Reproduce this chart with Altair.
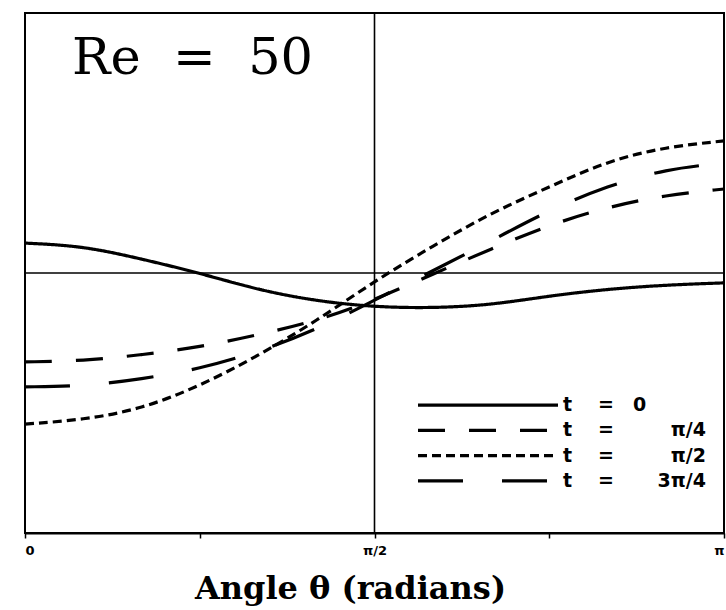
import altair as alt
import pandas as pd

# Angle grid (radians), 0 .. pi in steps of pi/12
theta = [0.000, 0.262, 0.524, 0.785, 1.047, 1.309, 1.571,
         1.833, 2.094, 2.356, 2.618, 2.880, 3.142]

series_names = ["t = 0", "t = π/4", "t = π/2", "t = 3π/4"]
series_values = ["0", "π/4", "π/2", "3π/4"]

# Normalised response at each time instant
t_0 = [0.115, 0.104, 0.054, 0.000, -0.065, -0.108, -0.131,
       -0.135, -0.123, -0.088, -0.062, -0.046, -0.038]
t_pi4 = [-0.342, -0.338, -0.315, -0.285, -0.238, -0.185, -0.104,
         -0.004, 0.092, 0.185, 0.254, 0.300, 0.323]
t_pi2 = [-0.581, -0.565, -0.523, -0.435, -0.319, -0.185, -0.031,
         0.104, 0.231, 0.331, 0.431, 0.485, 0.508]
t_3pi4 = [-0.438, -0.435, -0.408, -0.369, -0.304, -0.219, -0.104,
          0.008, 0.123, 0.242, 0.335, 0.400, 0.423]

tick_values = [0.0, 0.7854, 1.5708, 2.3562, 3.14159]
tick_labels = ["0", "", "π/2", "", "π"]

dash_patterns = [[1, 0], [27, 24], [9, 5], [45, 39]]

rows = []
for name, vals in zip(series_names, [t_0, t_pi4, t_pi2, t_3pi4]):
    for th, v in zip(theta, vals):
        rows.append({"theta": th, "value": v, "series": name})
df = pd.DataFrame(rows)

legend_df = pd.DataFrame({
    "series": series_names,
    "val": series_values,
    "row": list(range(len(series_names))),
})

label_expr = " : ".join(
    f"abs(datum.value - {v}) < 0.01 ? '{lab}'" for v, lab in zip(tick_values, tick_labels)
) + " : ''"

dash_scale = alt.Scale(domain=series_names, range=dash_patterns)

x_scale = alt.Scale(domain=[0, 3.14159], nice=False, zero=False)
y_scale = alt.Scale(domain=[-1, 1], nice=False, zero=False)
x_axis = alt.Axis(values=tick_values, labelExpr=label_expr, title="Angle θ (radians)")

curves = alt.Chart(df).mark_line(
    color="black", strokeWidth=3.2, interpolate="basis", strokeCap="butt"
).encode(
    x=alt.X("theta:Q", scale=x_scale, axis=x_axis),
    y=alt.Y("value:Q", scale=y_scale, axis=None),
    strokeDash=alt.StrokeDash("series:N", scale=dash_scale, legend=None),
    detail="series:N",
)

zero_line = alt.Chart(pd.DataFrame({"y": [0.0]})).mark_rule(
    color="black", strokeWidth=1.6
).encode(y=alt.Y("y:Q", scale=y_scale, axis=None))

mid_line = alt.Chart(pd.DataFrame({"x": [1.5708]})).mark_rule(
    color="black", strokeWidth=1.6
).encode(x=alt.X("x:Q", scale=x_scale, axis=x_axis))

re_label = alt.Chart(pd.DataFrame({"txt": ["Re\u00a0\u00a0=\u00a0\u00a050"]})).mark_text(
    align="left", baseline="alphabetic", font="DejaVu Serif", fontSize=51, color="black"
).encode(text="txt:N", x=alt.value(47), y=alt.value(61))

# Hand-built key in the lower right of the plot area (rows stacked downward)
leg_base = alt.Chart(legend_df).transform_calculate(ly="-0.508 - 0.0973 * datum.row")
leg_y = alt.Y("ly:Q", scale=y_scale, axis=None)
txt_style = dict(baseline="middle", font="DejaVu Sans", fontWeight="bold",
                 fontSize=19, color="black")

leg_lines = leg_base.mark_rule(color="black", strokeWidth=3.2, strokeCap="butt").encode(
    x=alt.value(393), x2=alt.value(533),
    y=leg_y,
    strokeDash=alt.StrokeDash("series:N", scale=dash_scale, legend=None),
)
leg_t = leg_base.mark_text(align="left", **txt_style).encode(
    text=alt.value("t"), x=alt.value(538), y=leg_y)
leg_eq = leg_base.mark_text(align="center", **txt_style).encode(
    text=alt.value("="), x=alt.value(581), y=leg_y)
leg_zero = leg_base.transform_filter("datum.val === '0'").mark_text(
    align="left", **txt_style).encode(text="val:N", x=alt.value(608), y=leg_y)
leg_pi = leg_base.transform_filter("datum.val !== '0'").mark_text(
    align="right", **txt_style).encode(text="val:N", x=alt.value(681), y=leg_y)

chart = alt.layer(
    zero_line, mid_line, curves, re_label, leg_lines, leg_t, leg_eq, leg_zero, leg_pi
).properties(
    width=699, height=520,
    autosize=alt.AutoSizeParams(type="none"),
    padding={"left": 25, "top": 13, "right": 2, "bottom": 77},
    background="white",
).configure_view(
    stroke="black", strokeWidth=2
).configure_axisX(
    domainColor="black", domainWidth=2,
    tickColor="black", tickWidth=1.5, tickSize=5,
    labelFont="DejaVu Sans", labelFontWeight="bold", labelFontSize=13,
    labelColor="black", labelPadding=6, labelFlush=True,
    grid=False,
    titleFont="DejaVu Serif", titleFontWeight="bold", titleFontSize=32,
    titleColor="black", titleX=325, titleY=65, titleBaseline="alphabetic",
    titleAlign="center",
)

chart.save("out.html", embed_options={"renderer": "svg", "actions": False})
